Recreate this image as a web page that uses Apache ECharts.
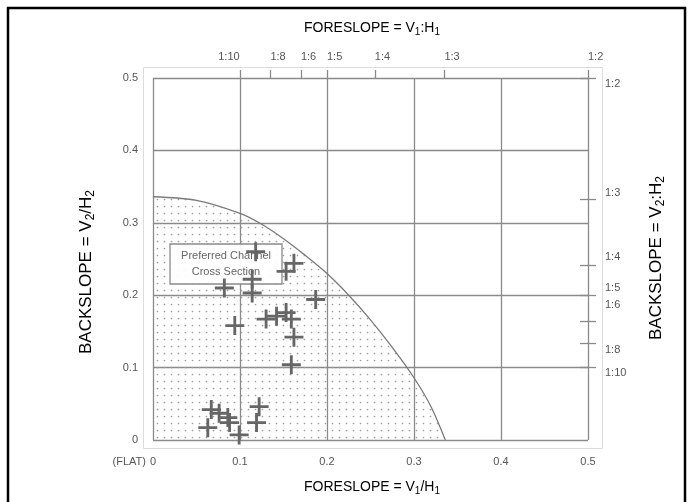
<!DOCTYPE html>
<html>
<head>
<meta charset="utf-8">
<script src="https://cdn.jsdelivr.net/npm/echarts@6/dist/echarts.min.js"></script>
<style>
  html, body { margin: 0; padding: 0; background: #fff; }
  #chart { width: 693px; height: 502px; }
</style>
</head>
<body>
<div id="chart"></div>
<script>
// slope ratios, ticks and labels
var topTickValues = [0.1, 0.135, 0.17, 0.2, 0.255, 0.335, 0.5];
var topLabelValues = [0.075, 0.135, 0.17, 0.2, 0.255, 0.335, 0.5];
var topLabels = ['1:10', '1:8', '1:6', '1:5', '1:4', '1:3', '1:2'];

var rightTickValues = [0.5, 0.333, 0.242, 0.2, 0.164, 0.133, 0.1];
var rightLabelValues = [0.492, 0.341, 0.253, 0.21, 0.186, 0.124, 0.0925];
var rightLabels = ['1:2', '1:3', '1:4', '1:5', '1:6', '1:8', '1:10'];

// preferred region boundary
var curveX = [0, 0.05, 0.1, 0.125, 0.15, 0.175, 0.2, 0.225, 0.25, 0.275, 0.3, 0.32, 0.336];
var curveY = [0.336, 0.331, 0.313, 0.298, 0.278, 0.255, 0.23, 0.2, 0.166, 0.128, 0.086, 0.045, 0];

// measured channels
var crossX = [0.118, 0.153, 0.162, 0.114, 0.114, 0.082, 0.094, 0.130, 0.142, 0.153, 0.159,
  0.162, 0.159, 0.187, 0.067, 0.076, 0.086, 0.088, 0.063, 0.099, 0.119, 0.122];
var crossY = [0.260, 0.233, 0.244, 0.222, 0.203, 0.210, 0.158, 0.167, 0.171, 0.176, 0.167,
  0.142, 0.104, 0.194, 0.042, 0.037, 0.031, 0.024, 0.017, 0.007, 0.024, 0.046];

function zip(a, b) {
  var out = [];
  for (var i = 0; i < a.length; i++) out.push([a[i], b[i]]);
  return out;
}

function labelFor(values, labels) {
  return function (v) {
    var best = 0;
    for (var i = 1; i < values.length; i++) {
      if (Math.abs(values[i] - v) < Math.abs(values[best] - v)) best = i;
    }
    return labels[best];
  };
}

// dotted fill
var dots = document.createElement('canvas');
dots.width = 7;
dots.height = 7;
var ctx = dots.getContext('2d');
ctx.fillStyle = '#9c9c9c';
ctx.beginPath();
ctx.arc(3.5, 3.5, 0.85, 0, Math.PI * 2);
ctx.fill();

var FONT = 'Liberation Sans, Arial, sans-serif';
var gridLine = { lineStyle: { color: '#8a8a8a', width: 1.3 } };
var subRich = {
  base: { fontSize: 14, color: '#555', fontFamily: FONT },
  sub: { fontSize: 10, color: '#555', fontFamily: FONT, padding: [8, 0, 0, 0] }
};
var sideRich = {
  base: { fontSize: 17, color: '#555', fontFamily: FONT },
  sub: { fontSize: 12, color: '#555', fontFamily: FONT, padding: [10, 0, 0, 0] }
};

var myChart = echarts.init(document.getElementById('chart'));

var option = {
  animation: false,
  backgroundColor: '#fff',
  grid: { left: 153, right: 105, top: 78, bottom: 62 },
  xAxis: [{
    type: 'value',
    position: 'bottom',
    min: 0,
    max: 0.5,
    interval: 0.1,
    axisLine: { show: false, onZero: false },
    axisTick: { show: false },
    splitLine: gridLine,
    axisLabel: { color: '#555', fontSize: 11, fontFamily: FONT, margin: 16 }
  }, {
    type: 'value',
    position: 'top',
    min: 0,
    max: 0.5,
    axisLine: { show: false, onZero: false },
    splitLine: { show: false },
    axisTick: {
      show: true, length: 8, customValues: topTickValues,
      lineStyle: { color: '#8a8a8a', width: 1.3 }
    },
    axisLabel: {
      customValues: topLabelValues,
      formatter: labelFor(topLabelValues, topLabels),
      align: 'left', color: '#555', fontSize: 11, fontFamily: FONT, margin: 16
    }
  }],
  yAxis: [{
    type: 'value',
    position: 'left',
    min: 0,
    max: 0.5,
    interval: 0.1,
    axisLine: { show: false, onZero: false },
    axisTick: { show: false },
    splitLine: gridLine,
    axisLabel: { color: '#555', fontSize: 11, fontFamily: FONT, margin: 15 }
  }, {
    type: 'value',
    position: 'right',
    min: 0,
    max: 0.5,
    offset: -8,
    axisLine: { show: false, onZero: false },
    splitLine: { show: false },
    axisTick: {
      show: true, length: 16, customValues: rightTickValues,
      lineStyle: { color: '#8a8a8a', width: 1.3 }
    },
    axisLabel: {
      customValues: rightLabelValues,
      formatter: labelFor(rightLabelValues, rightLabels),
      align: 'left', color: '#555', fontSize: 11, fontFamily: FONT, margin: 25
    }
  }],
  series: [{
    type: 'line',
    z: 1,
    data: zip(curveX, curveY),
    smooth: 0.3,
    symbol: 'none',
    lineStyle: { color: '#7a7a7a', width: 1.3 },
    areaStyle: { color: { image: dots, repeat: 'repeat' }, opacity: 1 }
  }, {
    type: 'scatter',
    z: 10,
    data: zip(crossX, crossY),
    symbol: 'path://M0,8.5H20V11.5H0Z M8.5,0H11.5V20H8.5Z',
    symbolSize: 19,
    itemStyle: { color: '#666', opacity: 1 }
  }],
  graphic: [{
    type: 'rect',
    z: 100,
    silent: true,
    shape: { x: 8, y: 8, width: 677, height: 520 },
    style: { fill: 'none', stroke: '#000', lineWidth: 2.5 }
  }, {
    type: 'rect',
    z: 0,
    silent: true,
    shape: { x: 143.5, y: 67.5, width: 459, height: 381 },
    style: { fill: 'none', stroke: '#dcdcdc', lineWidth: 1 }
  }, {
    type: 'rect',
    z: 5,
    silent: true,
    shape: { x: 170, y: 244, width: 112, height: 40 },
    style: { fill: 'rgba(255,255,255,0.92)', stroke: '#8a8a8a', lineWidth: 1.3 }
  }, {
    type: 'text',
    z: 6,
    silent: true,
    x: 226, y: 264,
    style: {
      text: 'Preferred Channel\nCross Section',
      fill: '#666', fontSize: 11, fontFamily: FONT, lineHeight: 16,
      align: 'center', verticalAlign: 'middle'
    }
  }, {
    type: 'text',
    silent: true,
    x: 146, y: 462,
    style: {
      text: '(FLAT)', fill: '#555', fontSize: 11, fontFamily: FONT,
      align: 'right', verticalAlign: 'middle'
    }
  }, {
    type: 'text',
    silent: true,
    x: 372, y: 28,
    style: {
      text: '{base|FORESLOPE = V}{sub|1}{base|:H}{sub|1}',
      rich: subRich, align: 'center', verticalAlign: 'middle'
    }
  }, {
    type: 'text',
    silent: true,
    x: 372, y: 487,
    style: {
      text: '{base|FORESLOPE = V}{sub|1}{base|/H}{sub|1}',
      rich: subRich, align: 'center', verticalAlign: 'middle'
    }
  }, {
    type: 'text',
    silent: true,
    x: 86, y: 272,
    rotation: Math.PI / 2,
    style: {
      text: '{base|BACKSLOPE = V}{sub|2}{base|/H}{sub|2}',
      rich: sideRich, align: 'center', verticalAlign: 'middle'
    }
  }, {
    type: 'text',
    silent: true,
    x: 656, y: 258,
    rotation: Math.PI / 2,
    style: {
      text: '{base|BACKSLOPE = V}{sub|2}{base|:H}{sub|2}',
      rich: sideRich, align: 'center', verticalAlign: 'middle'
    }
  }]
};

myChart.setOption(option);
</script>
</body>
</html>
